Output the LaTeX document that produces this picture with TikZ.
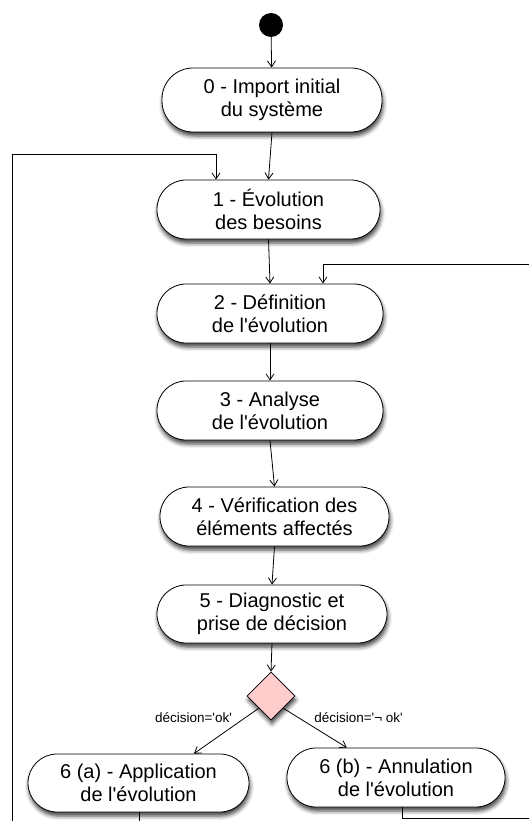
\documentclass[tikz,border=0pt]{standalone}
\usepackage{fontspec}
\setmainfont{Liberation Sans}
\usetikzlibrary{shapes.geometric,arrows.meta,calc,shadows.blur}
\definecolor{decpink}{RGB}{255,204,204}
\newcommand{\q}{\textquotesingle}
\tikzset{
  shad/.style={blur shadow={shadow xshift=1pt, shadow yshift=-4pt, shadow blur radius=4pt, shadow opacity=75}},
  act/.style={draw=black, line width=0.8pt, fill=white, rounded corners=29pt,
    inner sep=0pt, align=center, font=\fontsize{20}{23.3}\selectfont, shad},
  arr/.style={draw=black, line width=0.8pt, -{Straight Barb[length=6pt,width=8pt]}},
  lbl/.style={font=\fontsize{13.5}{15}\selectfont, inner sep=0pt}
}
\begin{document}
\begin{tikzpicture}[x=1pt,y=-1pt]
\useasboundingbox (0,0) rectangle (529,821);
\clip (0,0) rectangle (529,821);
\node[circle, fill=black, minimum size=24pt, inner sep=0pt] (start) at (271,25) {};
\node[act, minimum width=220pt, minimum height=64pt, rounded corners=31pt] (n0) at (272,100) {0 - Import initial\\du système};
\node[act, minimum width=223pt, minimum height=59pt] (n1) at (268.5,209.5) {1 - Évolution\\des besoins};
\node[act, minimum width=226pt, minimum height=59pt] (n2) at (270,313.5) {2 - Définition\\de l\q évolution};
\node[act, minimum width=226pt, minimum height=59pt] (n3) at (270,410.5) {3 - Analyse\\de l\q évolution};
\node[act, minimum width=229pt, minimum height=59pt] (n4) at (274.5,516.5) {4 - Vérification des\\éléments affectés};
\node[act, minimum width=230pt, minimum height=58pt] (n5) at (272,614) {5 - Diagnostic et\\prise de décision};
\node[diamond, draw=black, line width=0.8pt, fill=decpink, minimum width=48pt, minimum height=48pt, inner sep=0pt, shad] (d) at (271,696) {};
\node[act, minimum width=221pt, minimum height=58pt] (a6) at (138.5,783) {6 (a) - Application\\de l\q évolution};
\node[act, minimum width=218pt, minimum height=59pt] (b6) at (396,777.5) {6 (b) - Annulation\\de l\q évolution};

\node[lbl] (lok) at (193.5,718) {décision=\q ok\q};
\node[lbl] (lnok) at (358.5,718) {décision=\q¬ ok\q};

\draw[arr] (start) -- (n0);
\draw[arr] (n0.south) -- (n1.north);
\draw[arr] (n1.south) -- (n2.north);
\draw[arr] (n2.south) -- (n3.north);
\draw[arr] (n3.south) -- (n4.north);
\draw[arr] (n4.south) -- (n5.north);
\draw[arr] (n5.south) -- (d.north);
\draw[arr] (d.south west) -- ($(a6.north)!0.5!(a6.north east)$);
\draw[arr] (d.south east) -- ($(b6.north)!0.45!(b6.north west)$);

\coordinate (lb) at (12,827);
\coordinate (lt) at (12,154);
\coordinate (rb) at (536,818);
\coordinate (rt) at (536,264);
\draw[arr] ($(a6.south)+(0.5,0)$) |- (lb) -- (lt) -| ($(n1.north)+(-52.5,0)$);
\draw[arr] ($(b6.south)+(6,0)$) |- (rb) -- (rt) -| ($(n2.north)+(53,0)$);
\end{tikzpicture}
\end{document}
